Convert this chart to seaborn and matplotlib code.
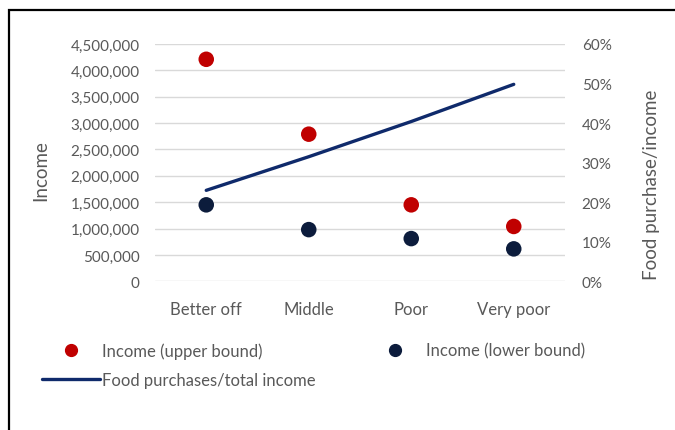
import matplotlib
matplotlib.use("Agg")
import matplotlib.pyplot as plt
import matplotlib.ticker as mticker
from matplotlib.lines import Line2D
from matplotlib.patches import Rectangle
import seaborn as sns
import pandas as pd

categories = ["Better off", "Middle", "Poor", "Very poor"]
income_upper = [4210000, 2790000, 1450000, 1040000]
income_lower = [1450000, 980000, 810000, 615000]
food_share = [0.230, 0.315, 0.404, 0.498]

left_ticks = [0, 500000, 1000000, 1500000, 2000000, 2500000, 3000000, 3500000, 4000000, 4500000]
right_ticks = [0, 0.1, 0.2, 0.3, 0.4, 0.5, 0.6]

RED = "#C00000"
DARK = "#0C1C3C"
NAVY = "#0F2A6B"
GREY = "#595959"
GRID = "#D9D9D9"

sns.set_theme(style="white")
plt.rcParams["font.family"] = ["Lato", "DejaVu Sans"]

df = pd.DataFrame({
    "pos": range(len(categories)),
    "cat": categories,
    "upper": income_upper,
    "lower": income_lower,
    "share": food_share,
})

fig = plt.figure(figsize=(6.75, 4.31), dpi=100)
ax = fig.add_axes([155 / 675, 1 - 282.3 / 431, 410 / 675, (282.3 - 45) / 431])
ax2 = ax.twinx()

sns.scatterplot(data=df, x="pos", y="upper", ax=ax, color=RED, s=125,
                edgecolor="none", zorder=3, legend=False)
sns.scatterplot(data=df, x="pos", y="lower", ax=ax, color=DARK, s=125,
                edgecolor="none", zorder=3, legend=False)
sns.lineplot(data=df, x="pos", y="share", ax=ax2, color=NAVY, linewidth=2.4,
             legend=False)

ax.set_xlim(-0.5, len(categories) - 0.5)
ax.set_ylim(0, 4500000)
ax.set_yticks(left_ticks)
ax.yaxis.set_major_formatter(mticker.FuncFormatter(lambda v, p: f"{int(v):,}"))
ax.grid(axis="y", color=GRID, linewidth=1)
ax.set_axisbelow(True)
ax.set_xticks(df["pos"])
ax.set_xticklabels(categories)

ax2.set_ylim(0, 0.6)
ax2.set_yticks(right_ticks)
ax2.yaxis.set_major_formatter(mticker.FuncFormatter(lambda v, p: f"{round(v*100)}%"))

for a in (ax, ax2):
    for s in a.spines.values():
        s.set_visible(False)
    a.set_xlabel("")

ax.tick_params(axis="y", length=0, pad=11, labelsize=11, labelcolor=GREY)
ax.tick_params(axis="x", length=0, pad=14, labelsize=12, labelcolor=GREY)
ax2.tick_params(axis="y", length=0, pad=12, labelsize=11, labelcolor=GREY)

ax.set_ylabel("Income", fontsize=13.5, color=GREY, labelpad=0)
ax.yaxis.set_label_coords((49 - 155) / 410, 0.47)
ax2.set_ylabel("Food purchase/income", fontsize=13.5, color=GREY)
ax2.yaxis.set_label_coords((643 - 155) / 410, 0.41)

handles = [
    Line2D([], [], marker="o", linestyle="none", color=RED, markersize=8.5),
    Line2D([], [], color=NAVY, linewidth=2.4),
    Line2D([], [], marker="o", linestyle="none", color=DARK, markersize=8.5),
]
labels = ["Income (upper bound)", "Food purchases/total income", "Income (lower bound)"]
leg = fig.legend(handles, labels, ncol=2, frameon=False, fontsize=12,
                 loc="upper left", bbox_to_anchor=(42 / 675, 1 - 343 / 431),
                 handlelength=3.5, handletextpad=0.12, columnspacing=3.0,
                 labelspacing=0.78, borderaxespad=0, borderpad=0)
for t in leg.get_texts():
    t.set_color(GREY)

# outer frame (left and top edges visible)
fig.add_artist(Rectangle((9 / 675, -0.1), 1.0, (1 - 11 / 431) + 0.1,
                         transform=fig.transFigure, fill=False,
                         edgecolor="black", linewidth=1.6, clip_on=False))

fig.savefig("out.png", dpi=100)
